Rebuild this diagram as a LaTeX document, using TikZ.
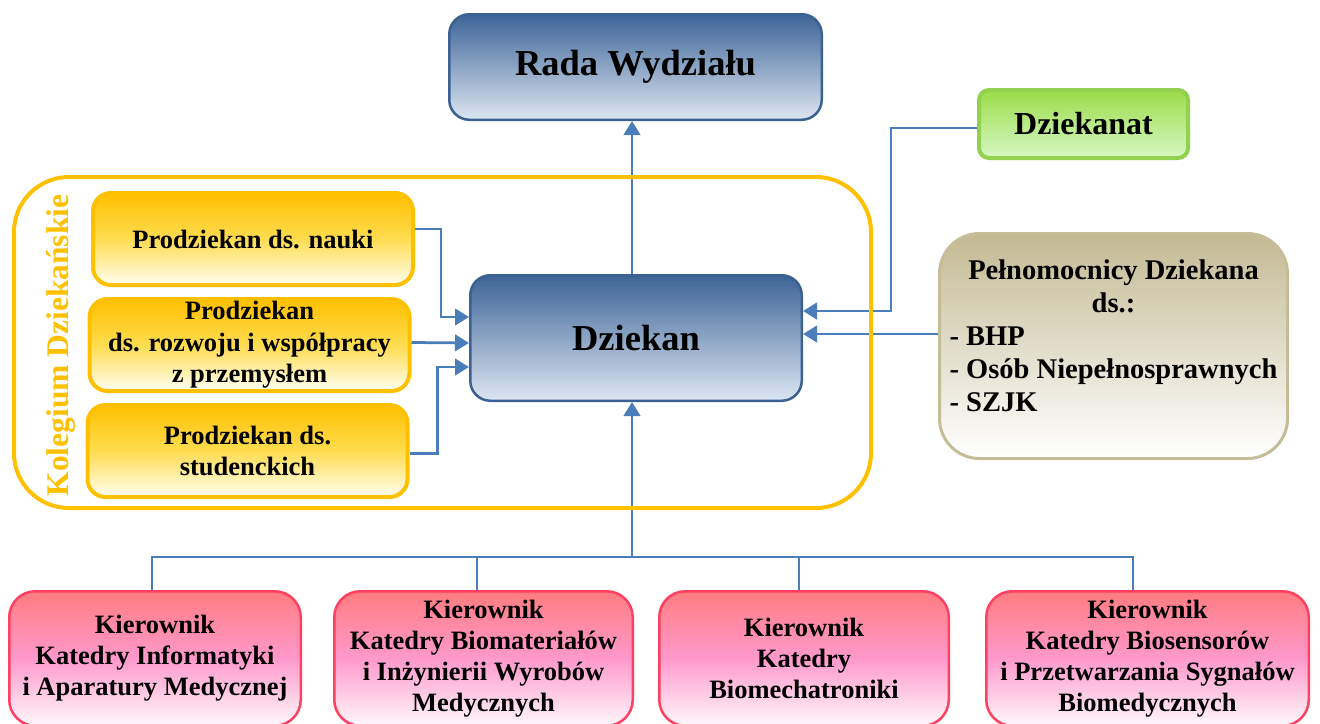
\documentclass[tikz,border=0pt]{standalone}
\usepackage{fontspec}
\setmainfont{Liberation Serif}
\usetikzlibrary{positioning, arrows.meta}
\definecolor{linkblue}{HTML}{4A7EBB}
\definecolor{deanedge}{HTML}{3B6192}
\definecolor{deantop}{HTML}{3D6497}
\definecolor{deanbot}{HTML}{DCE6F2}
\definecolor{kolyellow}{HTML}{FFC000}
\definecolor{kolmid}{HTML}{FFDC50}
\definecolor{kolpale}{HTML}{FFFFF2}
\definecolor{greenedge}{HTML}{92D050}
\definecolor{greentop}{HTML}{9BDC48}
\definecolor{greenbot}{HTML}{D6F8C5}
\definecolor{tanedge}{HTML}{C4BD97}
\definecolor{tantop}{HTML}{C3BA93}
\definecolor{pinkedge}{HTML}{FF4062}
\definecolor{pinktop}{HTML}{FF7C80}
\definecolor{pinkmid}{HTML}{FF99CC}
\definecolor{pinkbot}{HTML}{FFF8FB}
\tikzset{
  box/.style={
    draw,
    rectangle,
    align=center,
    inner sep=0pt
  },
  deanbox/.style={
    box,
    draw=deanedge,
    line width=2.5pt,
    rounded corners=20pt,
    top color=deantop,
    bottom color=deanbot,
    font=\bfseries\fontsize{36.5}{40}\selectfont
  },
  vicebox/.style={
    box,
    draw=kolyellow,
    line width=4pt,
    rounded corners=18pt,
    minimum width=320pt,
    minimum height=92pt,
    top color=kolyellow,
    bottom color=kolpale,
    middle color=kolmid,
    font=\bfseries\fontsize{26.5}{31.5}\selectfont
  },
  officebox/.style={
    box,
    draw=greenedge,
    line width=4pt,
    rounded corners=10pt,
    top color=greentop,
    bottom color=greenbot,
    font=\bfseries\fontsize{32}{36}\selectfont
  },
  agentbox/.style={
    box,
    draw=tanedge,
    line width=3pt,
    rounded corners=40pt,
    top color=tantop,
    bottom color=white,
    font=\bfseries\fontsize{28.5}{33}\selectfont
  },
  chairbox/.style={
    box,
    draw=pinkedge,
    line width=2.5pt,
    rounded corners=26pt,
    minimum height=134.5pt,
    top color=pinktop,
    bottom color=pinkbot,
    middle color=pinkmid,
    font=\bfseries\fontsize{26.5}{31}\selectfont
  },
  kolframe/.style={
    draw=kolyellow,
    line width=4pt,
    rounded corners=55pt
  },
  kollabel/.style={
    inner sep=0pt,
    text=kolyellow,
    font=\bfseries\fontsize{31.5}{34}\selectfont
  },
  link/.style={
    draw=linkblue,
    line width=2.75pt
  },
  bus/.style={
    draw=linkblue,
    line width=2pt
  },
  arrow/.style={
    link,
    -{Triangle[length=14pt,width=16.5pt]}
  }
}

\begin{document}
\begin{tikzpicture}[x=1pt, y=-1pt]
        \useasboundingbox (0,0) rectangle (1320,723);

        \node[deanbox, minimum width=372.5pt, minimum height=105.5pt] (rada) at (635.5,67) {Rada Wydziału};
        \node[deanbox, minimum width=331.5pt, minimum height=125.5pt] (dziekan) at (636,338) {Dziekan};
        \node[officebox, minimum width=209pt, minimum height=68pt] (dziekanat) at (1083.5,124) {Dziekanat};
        \node[agentbox, minimum width=348pt, minimum height=225pt] (pelnom) at (1113.5,346) {\begin{tabular}{@{}l@{}}\multicolumn{1}{@{}c@{}}{Pełnomocnicy Dziekana}\\ \multicolumn{1}{@{}c@{}}{ds.:}\\ - BHP\\ - Osób Niepełnosprawnych\\ - SZJK\\[14pt]\end{tabular}};

        \node[vicebox] (nauki) at (253,239) {Prodziekan ds. nauki};
        \node[vicebox, below=10pt of nauki, xshift=-3.5pt] (rozwoj) {Prodziekan\\ds. rozwoju i współpracy\\z przemysłem};
        \node[vicebox, below=10pt of rozwoj, xshift=-2pt] (stud) {Prodziekan ds.\\studenckich};
        \node[kollabel, rotate=90] (kolegium) at (61,345.5) {Kolegium Dziekańskie};

        \node[chairbox, minimum width=291.5pt] (kat1) at (155,658.5) {Kierownik\\Katedry Informatyki\\i Aparatury Medycznej};
        \node[chairbox, minimum width=298.5pt, right=31pt of kat1] (kat2) {Kierownik\\Katedry Biomateriałów\\i Inżynierii Wyrobów\\Medycznych};
        \node[chairbox, minimum width=289.5pt, right=24pt of kat2] (kat3) {Kierownik\\Katedry\\Biomechatroniki};
        \node[chairbox, minimum width=322.5pt, right=35pt of kat3] (kat4) {Kierownik\\Katedry Biosensorów\\i Przetwarzania Sygnałów\\Biomedycznych};

        \coordinate (hub) at (632,557);
        \draw[arrow] (dziekan.north -| hub) -- (rada.south -| hub);
        \draw[arrow] (hub) -- (dziekan.south -| hub);
        \draw[bus] ([xshift=-3pt]kat1.north) |- (hub) -| ([xshift=-14.5pt]kat4.north);
        \draw[bus] ([xshift=-6.5pt]kat2.north) |- (hub);
        \draw[bus] ([xshift=-5pt]kat3.north) |- (hub);

        \draw[arrow] ([yshift=10pt]nauki.east) -- ++(26,0) |- ([yshift=21pt]dziekan.west);
        \draw[arrow] ([yshift=2.5pt]rozwoj.east) -- ([yshift=-5pt]dziekan.west);
        \draw[arrow] ([yshift=-2.5pt]stud.east) -- ++(28,0) |- ([yshift=-29pt]dziekan.west);
        \draw[arrow] ([yshift=-4pt]dziekanat.west) -- ++(-86,0) |- ([yshift=27pt]dziekan.east);
        \draw[arrow] ([yshift=12pt]pelnom.west) -- ([yshift=4pt]dziekan.east);

        \draw[kolframe] (14,177) rectangle (871,508);
      \end{tikzpicture}
\end{document}
